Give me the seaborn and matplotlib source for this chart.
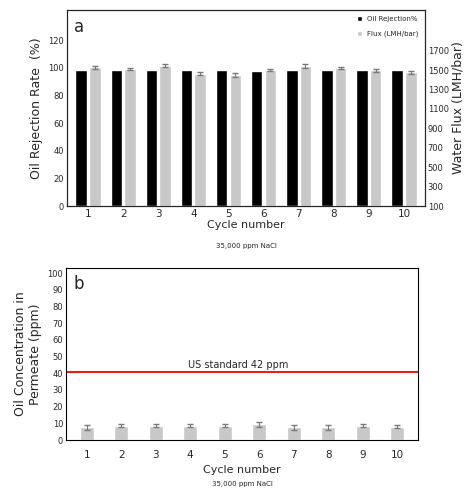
import matplotlib
matplotlib.use("Agg")
import matplotlib.pyplot as plt
import seaborn as sns
import numpy as np
import pandas as pd

cycles = [1,2,3,4,5,6,7,8,9,10]
rejection = [98.5,98.5,98.5,98.5,98.5,98.0,98.5,98.5,98.5,98.5]
flux = [1530,1515,1545,1465,1450,1500,1545,1525,1500,1480]
flux_err = [15,10,15,12,20,10,20,12,15,15]
oil_ppm = [7.5,8.5,8.5,8.5,8.5,9.5,7.5,7.5,8.5,8.0]
oil_err = [1.5,1.0,1.0,1.0,1.0,1.5,1.5,1.5,1.0,1.0]
standard = 41

sns.set_style("white")
plt.rcParams['font.family'] = ['DejaVu Sans']
fig = plt.figure(figsize=(4.74,4.91), dpi=100)
W, H = 474, 491
ax1 = fig.add_axes([67/W, 1-206/H, (425-67)/W, 196/H])
ax2 = fig.add_axes([66/W, 1-440/H, (418-66)/W, 172/H])

x = np.arange(len(cycles))
w = 0.33
ax1.bar(x - w/2 - 0.03, rejection, w, color='black', label='Oil Rejection%')
ax1.set_ylim(0, 142)
ax1.set_yticks(range(0,121,20))
ax1r = ax1.twinx()
ax1r.bar(x + w/2 + 0.03, flux, w, color='#c8c8c8', yerr=flux_err, capsize=2,
         error_kw=dict(ecolor='#777777', lw=0.8), label='Flux (LMH/bar)')
ax1r.set_ylim(100, 2120)
ax1r.set_yticks(range(100,1701,200))
ax1.set_xlim(-0.6, 9.6)
ax1.set_xticks(x)
ax1.set_xticklabels(cycles)
ax1.set_ylabel('Oil Rejection Rate  (%)', fontsize=9)
ax1r.set_ylabel('Water Flux (LMH/bar)', fontsize=9, labelpad=2)
ax1.set_xlabel('Cycle number', fontsize=8, labelpad=1)
ax1.text(0.5, -0.19, '35,000 ppm NaCl', transform=ax1.transAxes, ha='center', va='top', fontsize=5)
ax1.text(0.02, 0.96, 'a', transform=ax1.transAxes, fontsize=12, va='top')
h1, l1 = ax1.get_legend_handles_labels()
h2, l2 = ax1r.get_legend_handles_labels()
ax1.legend(h1+h2, l1+l2, loc='upper right', fontsize=5, frameon=False, handlelength=0.7, labelspacing=1.2)
for a in (ax1, ax1r):
    a.tick_params(labelsize=6, length=0, pad=2)
ax1.tick_params(axis='x', labelsize=7.5)
for s in ax1.spines.values():
    s.set_color('black')

df = pd.DataFrame({'cycle': cycles, 'ppm': oil_ppm})
sns.barplot(data=df, x='cycle', y='ppm', color='#c8c8c8', ax=ax2, width=0.4, errorbar=None)
ax2.errorbar(x, oil_ppm, yerr=oil_err, fmt='none', ecolor='#777777', capsize=2, lw=0.8)
ax2.plot([-0.6, 9.6], [standard, standard], color='#e8201a', lw=1.5)
ax2.text(4.4, standard+1, 'US standard 42 ppm', ha='center', va='bottom', fontsize=7)
ax2.set_xlim(-0.6, 9.6)
ax2.set_ylim(0, 103)
ax2.set_yticks(range(0,101,10))
ax2.set_ylabel('Oil Concentration in\nPermeate (ppm)', fontsize=9)
ax2.set_xlabel('Cycle number', fontsize=8, labelpad=4)
ax2.text(0.5, -0.24, '35,000 ppm NaCl', transform=ax2.transAxes, ha='center', va='top', fontsize=5)
ax2.text(0.02, 0.96, 'b', transform=ax2.transAxes, fontsize=12, va='top')
ax2.tick_params(labelsize=6, length=0, pad=2)
ax2.tick_params(axis='x', labelsize=7.5, pad=7)
for s in ax2.spines.values():
    s.set_visible(True); s.set_color('black')

fig.savefig('out.png', dpi=100)
